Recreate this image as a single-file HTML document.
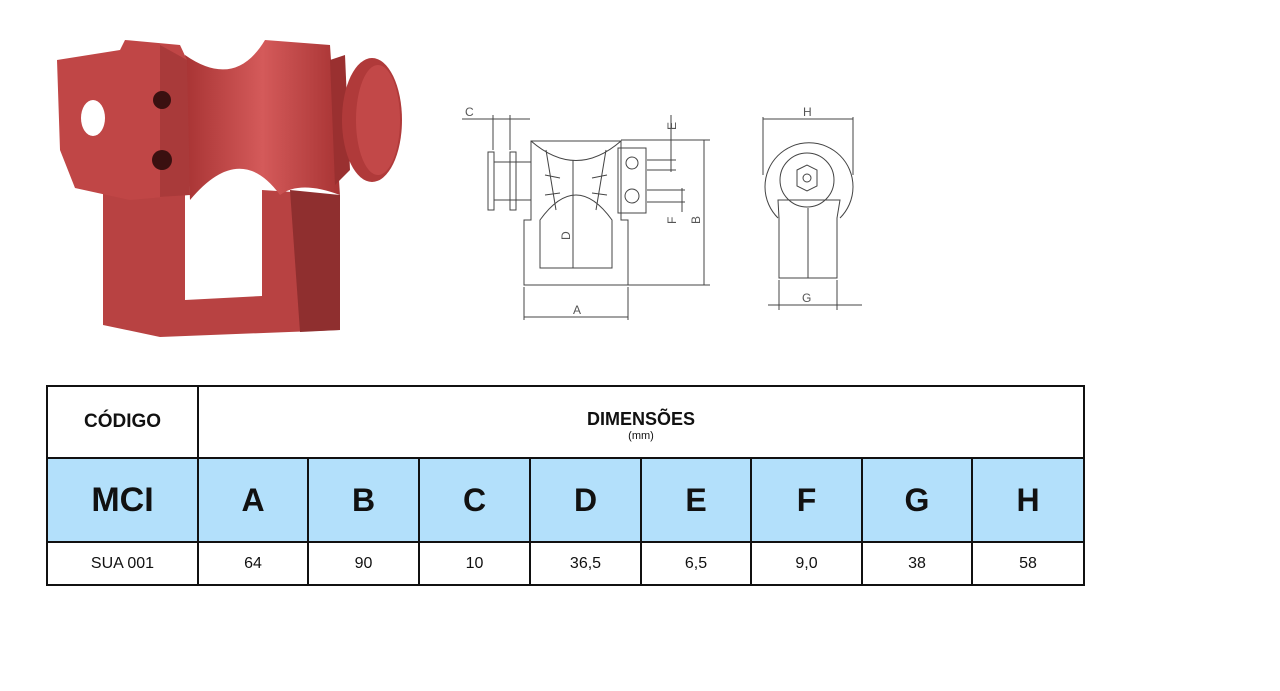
<!DOCTYPE html>
<html><head><meta charset="utf-8"><style>
body{margin:0;width:1280px;height:691px;background:#fff;position:relative;overflow:hidden;font-family:"Liberation Sans",sans-serif}
svg{position:absolute;left:0;top:0}
table{position:absolute;left:46px;top:385px;border-collapse:collapse;table-layout:fixed}
td{border:2.5px solid #111;text-align:center;padding:0;color:#111}
.h td{height:70px}
.b td{height:82px;background:#b3e0fb;font-weight:bold;font-size:32px}
.v td{height:41px;font-size:16px}
</style></head><body>
<svg width="1280" height="691">
<defs><linearGradient id="g" x1="0" x2="1"><stop offset="0" stop-color="#a83434"/><stop offset=".5" stop-color="#d45a5a"/><stop offset="1" stop-color="#a83434"/></linearGradient></defs>
<path d="M103 192 L185 195 L185 300 L262 296 L262 190 L338 195 L340 330 L160 337 L103 325 Z" fill="#b84242"/>
<path d="M290 190 L340 195 L340 330 L300 332 Z" fill="#8f2f2f"/>
<path d="M185 55 Q235 90 265 40 L330 45 L340 195 Q300 180 280 195 Q240 140 190 200 Z" fill="url(#g)"/>
<path d="M330 60 L345 55 L350 170 L335 185 Z" fill="#9a3030"/>
<ellipse cx="372" cy="120" rx="30" ry="62" fill="#b03a3a"/>
<ellipse cx="378" cy="120" rx="22" ry="55" fill="#c24848"/>
<path d="M57 60 L120 50 L125 40 L180 45 L187 60 L187 195 L130 200 L75 188 L60 150 Z" fill="#c04646"/>
<path d="M160 45 L187 60 L190 195 L160 197 Z" fill="#a93a3a"/>
<ellipse cx="93" cy="118" rx="12" ry="18" fill="#fff"/>
<circle cx="162" cy="100" r="9" fill="#3a1010"/><circle cx="162" cy="160" r="10" fill="#3a1010"/>
<g fill="none" stroke="#444" stroke-width="1">
<path d="M531 141 L621 141 L621 220 L628 220 L628 285 L524 285 L524 220 L531 220 Z"/>
<path d="M531 141 Q576 180 621 141" /><path d="M540 220 Q576 170 612 220 L612 268 L540 268 Z"/>
<rect x="488" y="152" width="6" height="58"/><rect x="510" y="152" width="6" height="58"/>
<path d="M494 162 L531 162 M494 200 L531 200"/>
<rect x="618" y="148" width="28" height="65"/><circle cx="632" cy="163" r="6"/><circle cx="632" cy="196" r="7"/>
<path d="M546 150 L556 210 M606 150 L596 210 M545 175 L560 178 M607 175 L592 178 M545 195 L560 193 M607 195 L592 193"/>
<path d="M462 119 L530 119 M493 115 L493 150 M510 115 L510 150 M671 115 L671 172 M647 160 L676 160 M647 170 L676 170 M682 188 L682 212 M647 190 L685 190 M647 202 L685 202 M621 140 L710 140 M628 285 L710 285 M704 140 L704 285 M524 287 L524 320 M628 287 L628 320 M524 317 L628 317 M573 160 L573 268"/>
<path d="M778 218 A44 44 0 1 1 840 218" /><circle cx="807" cy="180" r="27"/><path d="M797 170 L807 165 L817 170 L817 186 L807 191 L797 186 Z"/><circle cx="807" cy="178" r="4"/>
<path d="M778 200 L840 200 L837 218 L837 278 L779 278 L779 218 Z M808 208 L808 278"/>
<path d="M763 119 L853 119 M763 117 L763 175 M853 117 L853 175 M768 305 L862 305 M779 280 L779 310 M837 280 L837 310"/>
</g>
<g font-size="12" fill="#555" font-family="Liberation Sans">
<text x="465" y="116">C</text><text x="573" y="314">A</text><text x="802" y="302">G</text><text x="803" y="116">H</text>
<text x="570" y="240" transform="rotate(-90 570 240)">D</text>
<text x="676" y="224" transform="rotate(-90 676 224)">F</text><text x="700" y="224" transform="rotate(-90 700 224)">B</text><text x="676" y="130" transform="rotate(-90 676 130)">E</text>
</g>
</svg>
<table>
<colgroup><col style="width:151px"><col style="width:110px"><col style="width:111px"><col style="width:111px"><col style="width:111px"><col style="width:110px"><col style="width:111px"><col style="width:110px"><col style="width:112px"></colgroup>
<tr class="h"><td style="font-weight:bold;font-size:19px">CÓDIGO</td><td colspan="8"><div style="font-weight:bold;font-size:18px;margin-top:6px">DIMENSÕES</div><div style="font-size:11px">(mm)</div></td></tr>
<tr class="b"><td style="font-size:34px">MCI</td><td>A</td><td>B</td><td>C</td><td>D</td><td>E</td><td>F</td><td>G</td><td>H</td></tr>
<tr class="v"><td>SUA 001</td><td>64</td><td>90</td><td>10</td><td>36,5</td><td>6,5</td><td>9,0</td><td>38</td><td>58</td></tr>
</table>
</body></html>
